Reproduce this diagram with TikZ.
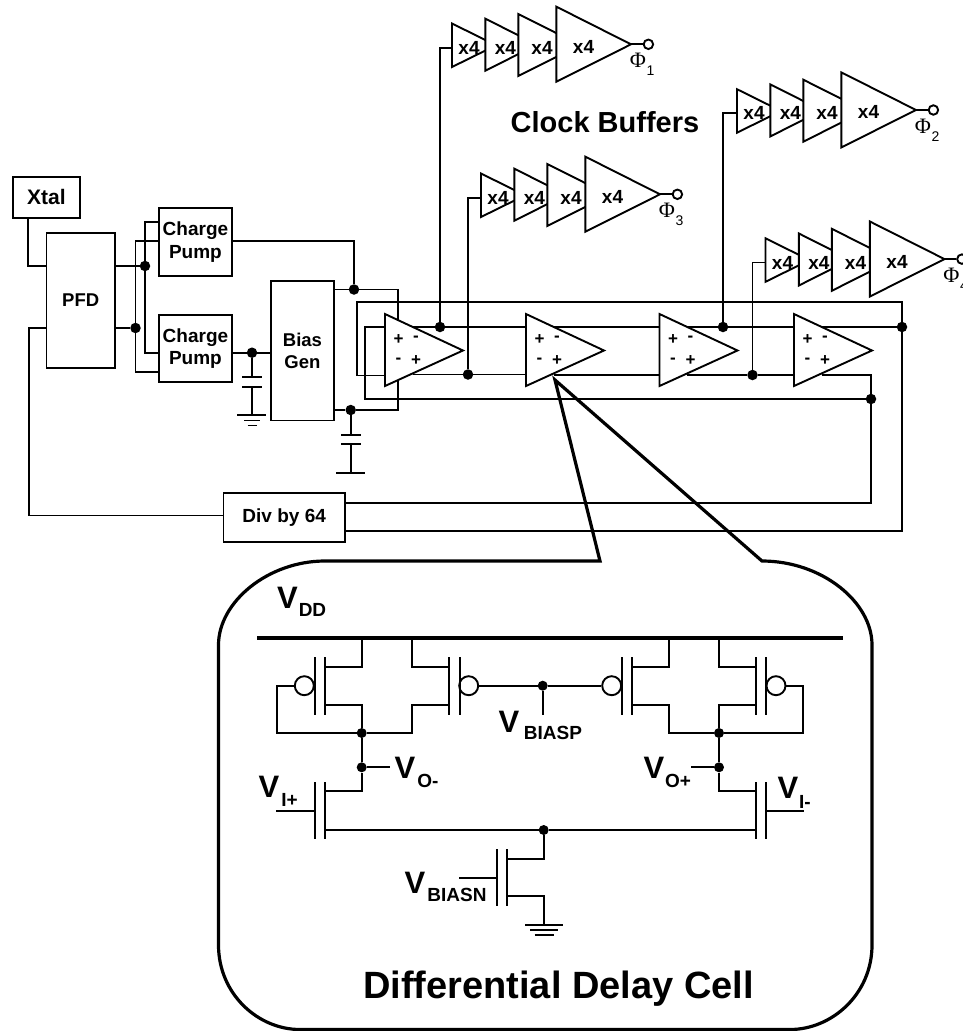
\documentclass[tikz,border=0pt]{standalone}
\usepackage{fontspec}
\setmainfont{Liberation Sans}
\newfontfamily\phifont{Liberation Serif}
\newcommand{\fs}[1]{\fontsize{#1}{#1}\selectfont}
\tikzset{
  wire/.style={line width=1.9pt,line join=miter},
  thick wire/.style={line width=3.2pt,line join=miter},
  blockbox/.style={draw,line width=1.9pt,fill=white,inner sep=0pt,anchor=north west,align=center,font=\bfseries\fs{19}},
  dotnode/.style={circle,fill=black,inner sep=0pt,minimum size=10.5pt},
  lab/.style={inner sep=0pt,font=\bfseries\fs{19}},
  tri/.style={line width=1.9pt,fill=white,line join=miter},
  sgn/.style={inner sep=0pt,font=\bfseries\fs{17}},
  bigv/.style={inner sep=0pt,font=\bfseries\fs{31}},
  subv/.style={inner sep=0pt,font=\bfseries\fs{19}},
  bub/.style={circle,draw,line width=1.9pt,fill=white,inner sep=0pt,minimum size=19pt},
}
% \bufchain{name}{dx}{dy}{index}
\newcommand{\bufchain}[4]{%
  \begin{scope}[shift={(#2,#3)}]
    \draw[tri] (452,23.5) -- (496,45.3) -- (452,67) -- cycle;
    \draw[tri] (485.4,18.7) -- (537,44.7) -- (485.4,70.7) -- cycle;
    \draw[tri] (518.3,14) -- (580,45) -- (518.3,76) -- cycle;
    \draw[tri] (556.4,6.7) -- (631,44.3) -- (556.4,81.7) -- cycle;
    \coordinate (#1in) at (452,47.7);
    \coordinate (#1tip) at (631,44.3);
    \node[circle,draw,line width=1.9pt,fill=white,inner sep=0pt,minimum size=9.5pt] (#1out) at (648.4,44.3) {};
    \draw[wire] (#1tip) -- (#1out);
    \node[lab] (#1a) at (469,47.7) {x4};
    \node[lab] (#1b) at (505.4,47.7) {x4};
    \node[lab] (#1c) at (542,47.7) {x4};
    \node[lab] (#1d) at (583.5,46.7) {x4};
    \node[inner sep=0pt,font=\phifont\fs{22}] (#1phi) at (638,60.5) {Φ};
    \node[inner sep=0pt,font=\fs{14}] (#1sub) at (650.5,70.5) {#4};
  \end{scope}}
% \cell{name}{left x}
\newcommand{\cell}[2]{%
  \begin{scope}[shift={(#2,0)}]
    \draw[tri] (0,314) -- (78,350.5) -- (0,386) -- cycle;
    \node[sgn] (#1s1) at (13.5,339.5) {+};
    \node[sgn] (#1s2) at (31,338.5) {-};
    \node[sgn] (#1s3) at (13.5,360.5) {-};
    \node[sgn] (#1s4) at (31,360.5) {+};
  \end{scope}}
\begin{document}
\begin{tikzpicture}[x=1pt,y=-1pt]
\useasboundingbox (0,0) rectangle (962,1031);
% --- blocks
\node[blockbox,minimum width=67pt,minimum height=41pt,font=\bfseries\fs{21}] (xtal) at (12,176) {Xtal};
\node[blockbox,minimum width=68.5pt,minimum height=135pt,font=\bfseries\fs{18.5}] (pfd) at (45.5,232) {PFD};
\node[blockbox,minimum width=73pt,minimum height=68pt] (cp1) at (158,207) {Charge\\[3.5pt]Pump};
\node[blockbox,minimum width=73pt,minimum height=67pt] (cp2) at (158,314) {Charge\\[3.5pt]Pump};
\node[blockbox,minimum width=63pt,minimum height=139.5pt,font=\bfseries\fs{18.5}] (bias) at (270,280) {Bias\\[3.5pt]Gen};
\node[blockbox,minimum width=121.5pt,minimum height=49pt] (div) at (222.5,492) {Div by 64};
% --- named junctions
\node[dotnode] (j1) at (145,266) {};
\node[dotnode] (j2) at (135.5,328) {};
\node[dotnode] (j3) at (252,352.7) {};
\node[dotnode] (j4) at (354,289.5) {};
\node[dotnode] (j5) at (350.7,410) {};
\node[dotnode] (j6) at (440,327) {};
\node[dotnode] (j7) at (468,374.5) {};
\node[dotnode] (j8) at (723,327) {};
\node[dotnode] (j9) at (752.5,375) {};
\node[dotnode] (j10) at (902,327) {};
\node[dotnode] (j11) at (871,399) {};
\coordinate (c1t) at (252,377);
\coordinate (c1b) at (252,387);
\coordinate (g1) at (252,415);
\coordinate (c2t) at (350.7,434.6);
\coordinate (c2b) at (350.7,444.3);
\coordinate (g2) at (350.7,473);
% --- PFD wiring
\draw[wire] (28,217) -- (28,266) -- (pfd.west |- j1);
\draw[wire] (pfd.west |- j2) -- (29,328) -- (29,515.5) -- (div.west |- 0,515.5);
\draw[wire] (pfd.east |- j1) -- (j1);
\draw[wire] (pfd.east |- j2) -- (j2);
\draw[wire] (cp1.west |- 0,222) -- (145,222) -- (145,352.7) -- (cp2.west |- 0,352.7);
\draw[wire] (cp1.west |- 0,241) -- (135.5,241) -- (135.5,372) -- (cp2.west |- 0,372);
\draw[wire] (cp1.east |- 0,241) -- (354,241) -- (j4);
\draw[wire] (cp2.east |- j3) -- (j3) -- (bias.west |- j3);
\draw[wire] (j3) -- (c1t);
\draw[wire] (c1b) -- (g1);
\draw[wire] (242,377) -- (262,377);
\draw[wire] (242,387) -- (262,387);
\draw[wire] (237,415) -- (266,415);
\draw[wire] (244,420.5) -- (260,420.5);
\draw[wire] (247.5,425.5) -- (256.5,425.5);
\draw[wire] (bias.east |- j4) -- (j4) -- (398,289.5) -- (398,325);
\draw[wire] (bias.east |- j5) -- (j5) -- (398,410) -- (398,378);
\draw[wire] (j5) -- (c2t);
\draw[wire] (c2b) -- (g2);
\draw[wire] (341,434.6) -- (360.5,434.6);
\draw[wire] (341,444.3) -- (360.5,444.3);
\draw[wire] (336,473) -- (365,473);
% --- ring loop wires
\draw[wire] (385,375.5) -- (357,375.5) -- (357,302) -- (902,302) -- (j10) -- (902,531) -- (div.east |- 0,531);
\draw[wire] (385,327) -- (365,327) -- (365,399) -- (j11);
\draw[wire] (j11) -- (871,503) -- (div.east |- 0,503);
\draw[wire] (413,327) -- (j6) -- (526,327);
\draw[wire] (413,374.5) -- (j7) -- (526,374.5);
\draw[wire] (554,327) -- (659.5,327);
\draw[wire] (554,375) -- (659.5,375);
\draw[wire] (687,327) -- (j8) -- (794,327);
\draw[wire] (687,375) -- (j9) -- (794,375);
\draw[wire] (822,327) -- (j10);
\draw[wire] (822,375) -- (871,375) -- (j11);
% --- delay cells
\cell{da}{385}
\cell{db}{526}
\cell{dc}{659.5}
\cell{dd}{794}
% --- clock buffers
\draw[wire] (j6) -- (440,47.7) -- (452,47.7);
\draw[wire] (j7) -- (468,197.7) -- (481,197.7);
\draw[wire] (j8) -- (723,113.4) -- (737,113.4);
\draw[wire] (j9) -- (752.5,262.5) -- (765.5,262.5);
\bufchain{bo}{0}{0}{1}
\bufchain{bc}{29}{150}{3}
\bufchain{bb}{285}{65.7}{2}
\bufchain{bd}{313.5}{214.8}{4}
\node[inner sep=0pt,font=\bfseries\fs{29}] (cb) at (605,122.5) {Clock Buffers};
% --- call-out balloon
\coordinate (ap) at (555,380);
\draw[thick wire] (600,561) -- (ap) -- (762,561)
  .. controls (822,561) and (872,602) .. (872,645)
  -- (872,945) .. controls (872,994) and (832,1029.5) .. (790,1029.5)
  -- (300,1029.5) .. controls (258,1029.5) and (218.5,994) .. (218.5,945)
  -- (218.5,645) .. controls (218.5,602) and (268,561) .. (325,561)
  -- cycle;
\node[bigv] (vdd) at (287.5,598) {V};
\node[subv] (vdds) at (312.5,610) {DD};
\draw[thick wire] (257,638) -- (843,638);
% --- junctions in the cell
\node[dotnode,minimum size=10pt] (n1) at (361.7,733) {};
\node[dotnode,minimum size=10pt] (n2) at (361.7,767.3) {};
\node[dotnode,minimum size=10pt] (n3) at (719,733) {};
\node[dotnode,minimum size=10pt] (n4) at (719,767.3) {};
\node[dotnode,minimum size=10pt] (n5) at (542.7,685.7) {};
\node[dotnode,minimum size=10pt] (n6) at (543.7,830) {};
\node[bub] (b1) at (304.3,685.7) {};
\node[bub] (b2) at (468.7,685.7) {};
\node[bub] (b3) at (611.7,685.7) {};
\node[bub] (b4) at (776,685.7) {};
% PMOS plates
\draw[wire] (314.7,657.3) -- (314.7,714.7); \draw[wire] (325,657.3) -- (325,714.7);
\draw[wire] (449,657.3) -- (449,714.7); \draw[wire] (459.7,657.3) -- (459.7,714.7);
\draw[wire] (621.7,657.3) -- (621.7,714.7); \draw[wire] (631.7,657.3) -- (631.7,714.7);
\draw[wire] (756,657.3) -- (756,714.7); \draw[wire] (766,657.3) -- (766,714.7);
% PMOS wires
\draw[wire] (361.7,638) -- (361.7,666.7) -- (325,666.7);
\draw[wire] (325,705) -- (361.7,705) -- (n1);
\draw[wire] (411.7,638) -- (411.7,666.7) -- (449,666.7);
\draw[wire] (449,705) -- (411.7,705) -- (411.7,733) -- (n1);
\draw[wire] (669,638) -- (669,666.7) -- (631.7,666.7);
\draw[wire] (631.7,705) -- (669,705) -- (669,733) -- (n3);
\draw[wire] (719,638) -- (719,666.7) -- (756,666.7);
\draw[wire] (756,705) -- (719,705) -- (n3);
\draw[wire] (b1) -- (277,685.7) -- (277,733) -- (n1);
\draw[wire] (b4) -- (803.3,685.7) -- (803.3,733) -- (n3);
\draw[wire] (b2) -- (n5) -- (b3);
\draw[wire] (n5) -- (542.7,715);
% NMOS
\draw[wire] (314.7,782) -- (314.7,839); \draw[wire] (325,782) -- (325,839);
\draw[wire] (756,782) -- (756,839); \draw[wire] (766,782) -- (766,839);
\draw[wire] (497.3,849) -- (497.3,906); \draw[wire] (506.7,849) -- (506.7,906);
\draw[wire] (n1) -- (n2) -- (361.7,791.3) -- (325,791.3);
\draw[wire] (n3) -- (n4) -- (719,791.3) -- (756,791.3);
\draw[wire] (n2) -- (390,767.3);
\draw[wire] (691,767.3) -- (n4);
\draw[wire] (276,810.7) -- (314.7,810.7);
\draw[wire] (766,810.7) -- (804,810.7);
\draw[wire] (325,830) -- (n6) -- (756,830);
\draw[wire] (n6) -- (543.7,858.7) -- (506.7,858.7);
\draw[wire] (506.7,896) -- (543.7,896) -- (543.7,925);
\draw[wire] (459,877.7) -- (497.3,877.7);
\draw[wire] (525,925) -- (563,925);
\draw[wire] (530,930) -- (558,930);
\draw[wire] (534.5,935) -- (553.5,935);
% labels
\node[bigv] (l1) at (269,787) {V};
\node[subv] (l1s) at (289.5,800) {I+};
\node[bigv] (l2) at (405,768) {V};
\node[subv] (l2s) at (428,781) {O-};
\node[bigv] (l3) at (654,768) {V};
\node[subv] (l3s) at (678,781) {O+};
\node[bigv] (l4) at (788,788) {V};
\node[subv] (l4s) at (805,801.5) {I-};
\node[bigv] (l5) at (509,722) {V};
\node[subv] (l5s) at (553,733) {BIASP};
\node[bigv] (l6) at (415,883) {V};
\node[subv] (l6s) at (457,895) {BIASN};
\node[inner sep=0pt,font=\bfseries\fs{38}] (title) at (558.5,988.5) {Differential Delay Cell};
\end{tikzpicture}
\end{document}
